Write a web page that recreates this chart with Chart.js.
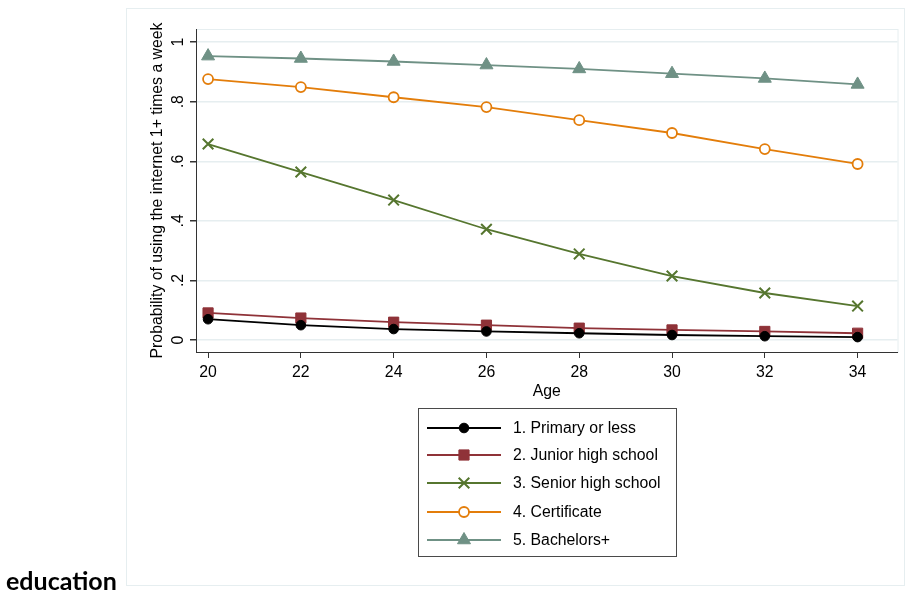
<!DOCTYPE html>
<html>
<head>
<meta charset="utf-8">
<script src="https://cdn.jsdelivr.net/npm/chart.js@4/dist/chart.umd.min.js"></script>
<style>
  html, body { margin: 0; padding: 0; background: #fff; }
  #wrap { width: 907px; height: 597px; position: relative; }
</style>
</head>
<body>
<div id="wrap"><canvas id="chart" width="907" height="597"></canvas></div>
<script>
// Данные графика
const ages = [20, 22, 24, 26, 28, 30, 32, 34];
const yTicks = [0, 0.2, 0.4, 0.6, 0.8, 1];
const yTickLabels = ['0', '.2', '.4', '.6', '.8', '1'];

const seriesNames = [
    '1. Primary or less',
    '2. Junior high school',
    '3. Senior high school',
    '4. Certificate',
    '5. Bachelors+'
];
const primary   = [0.070, 0.050, 0.037, 0.029, 0.023, 0.017, 0.013, 0.010];
const junior    = [0.091, 0.074, 0.060, 0.050, 0.040, 0.034, 0.029, 0.023];
const senior    = [0.658, 0.564, 0.470, 0.372, 0.289, 0.215, 0.158, 0.114];
const certif    = [0.876, 0.849, 0.815, 0.782, 0.738, 0.695, 0.641, 0.591];
const bachelors = [0.953, 0.945, 0.935, 0.923, 0.910, 0.894, 0.878, 0.858];

const FONT = '"Liberation Sans", Arial, sans-serif';
const FSIZE = 15.8;

function toPoints(values) {
    return values.map((v, i) => ({ x: ages[i], y: v }));
}

// Стили серий
const styles = [
    { color: '#000000', pointStyle: 'circle',   radius: 4.8, fill: '#000000', bw: 1 },
    { color: '#8f3238', pointStyle: 'rect',     radius: 7.2, fill: '#8f3238', bw: 1 },
    { color: '#56762f', pointStyle: 'crossRot', radius: 7.5, fill: '#56762f', bw: 2 },
    { color: '#e37d0a', pointStyle: 'circle',   radius: 5,   fill: '#ffffff', bw: 1.8 },
    { color: '#6f9185', pointStyle: 'triangle', radius: 7.5, fill: '#6f9185', bw: 1 }
];
const seriesData = [primary, junior, senior, certif, bachelors];

const datasets = seriesData.map((vals, i) => ({
    label: seriesNames[i],
    data: toPoints(vals),
    borderColor: styles[i].color,
    backgroundColor: styles[i].fill,
    borderWidth: 1.8,
    pointStyle: styles[i].pointStyle,
    pointRadius: styles[i].radius,
    pointBorderWidth: styles[i].bw,
    pointBorderColor: styles[i].color,
    pointBackgroundColor: styles[i].fill,
    tension: 0,
    fill: false
}));

// Рамки, подписи оси Y, легенда и подпись "education"
const decorPlugin = {
    id: 'decor',
    beforeDraw(chart) {
        const ctx = chart.ctx;
        const a = chart.chartArea;
        ctx.save();
        ctx.fillStyle = '#ffffff';
        ctx.fillRect(0, 0, chart.width, chart.height);
        ctx.strokeStyle = '#e6eef0';
        ctx.lineWidth = 1;
        ctx.strokeRect(126.5, 8.5, 778, 577);
        ctx.strokeRect(a.left + 0.5, a.top + 0.5, a.right - a.left, a.bottom - a.top);
        ctx.restore();
    },
    afterDraw(chart) {
        const ctx = chart.ctx;
        const yScale = chart.scales.y;
        ctx.save();
        // подписи оси Y повернуты
        ctx.fillStyle = '#000';
        ctx.font = FSIZE + 'px ' + FONT;
        ctx.textAlign = 'center';
        ctx.textBaseline = 'middle';
        yTicks.forEach((v, i) => {
            const py = yScale.getPixelForValue(v);
            ctx.save();
            ctx.translate(179, py);
            ctx.rotate(-Math.PI / 2);
            ctx.fillText(yTickLabels[i], 0, 0);
            ctx.restore();
        });

        // легенда
        const bx = 418.5, by = 408.5, bw = 258, bh = 148;
        ctx.strokeStyle = '#4a4a4a';
        ctx.lineWidth = 1;
        ctx.strokeRect(bx, by, bw, bh);
        const rows = [428, 455, 483, 512, 540];
        chart.data.datasets.forEach((ds, i) => {
            const y = rows[i];
            ctx.strokeStyle = ds.borderColor;
            ctx.lineWidth = 1.8;
            ctx.beginPath();
            ctx.moveTo(427, y);
            ctx.lineTo(501, y);
            ctx.stroke();
            ctx.strokeStyle = ds.pointBorderColor;
            ctx.lineWidth = ds.pointBorderWidth;
            ctx.fillStyle = ds.pointBackgroundColor;
            Chart.helpers.drawPoint(ctx, {
                pointStyle: ds.pointStyle,
                radius: ds.pointRadius,
                borderWidth: ds.pointBorderWidth,
                rotation: 0
            }, 464, y);
            ctx.fillStyle = '#000';
            ctx.font = FSIZE + 'px ' + FONT;
            ctx.textAlign = 'left';
            ctx.textBaseline = 'middle';
            ctx.fillText(ds.label, 513, y + 1);
        });

        // подпись снизу слева
        ctx.fillStyle = '#000';
        ctx.font = 'bold 25px Lato, "Open Sans", sans-serif';
        ctx.textAlign = 'left';
        ctx.textBaseline = 'alphabetic';
        ctx.fillText('education', 6, 590);
        ctx.restore();
    }
};

new Chart(document.getElementById('chart').getContext('2d'), {
    type: 'line',
    data: { datasets: datasets },
    options: {
        responsive: false,
        animation: false,
        events: [],
        layout: { padding: { left: 148, right: 9, top: 29, bottom: 196 } },
        plugins: {
            legend: { display: false },
            tooltip: { enabled: false }
        },
        scales: {
            x: {
                type: 'linear',
                min: 19.74,
                max: 34.86,
                afterBuildTicks(scale) {
                    scale.ticks = ages.map(v => ({ value: v }));
                },
                afterFit(scale) { scale.height = 49; },
                border: { color: '#333', width: 1 },
                grid: { drawOnChartArea: false, tickColor: '#333', tickLength: 6 },
                ticks: {
                    color: '#000',
                    font: { family: FONT, size: FSIZE },
                    padding: 5,
                    maxRotation: 0,
                    callback: v => String(v)
                },
                title: {
                    display: true,
                    text: 'Age',
                    color: '#000',
                    font: { family: FONT, size: FSIZE },
                    padding: 0
                }
            },
            y: {
                type: 'linear',
                min: -0.04,
                max: 1.044,
                afterBuildTicks(scale) {
                    scale.ticks = yTicks.map(v => ({ value: v }));
                },
                afterFit(scale) { scale.width = 48; },
                border: { color: '#333', width: 1 },
                grid: { color: '#e6eef0', lineWidth: 1.5, tickColor: '#333', tickLength: 6 },
                ticks: { display: false },
                title: {
                    display: true,
                    text: 'Probability of using the internet 1+ times a week',
                    color: '#000',
                    font: { family: FONT, size: FSIZE },
                    padding: 0
                }
            }
        }
    },
    plugins: [decorPlugin]
});
</script>
</body>
</html>
